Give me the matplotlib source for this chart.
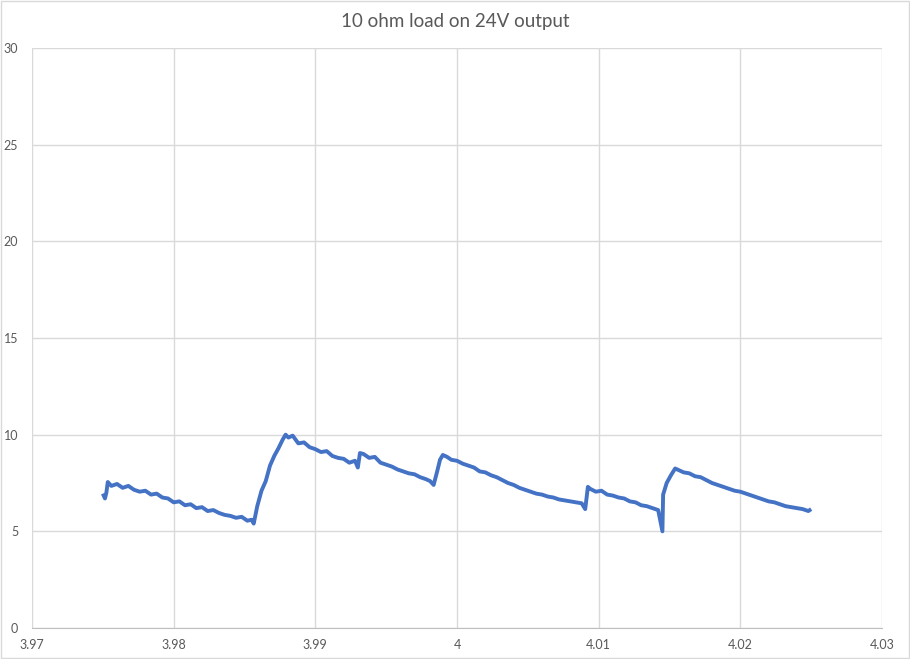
import matplotlib
matplotlib.use("Agg")
from matplotlib import pyplot as plt
from matplotlib.patches import Rectangle

# time (s) and voltage (V)
time = [
    3.97500, 3.97515, 3.97525, 3.97535, 3.97560, 3.97600, 3.97640, 3.97680,
    3.97720, 3.97760, 3.97800, 3.97840, 3.97880, 3.97920, 3.97960, 3.98000,
    3.98040, 3.98080, 3.98120, 3.98160, 3.98200, 3.98240, 3.98280, 3.98320,
    3.98360, 3.98400, 3.98440, 3.98480, 3.98520, 3.98550, 3.98565,
    3.98590, 3.98620, 3.98650, 3.98680, 3.98710, 3.98740, 3.98770, 3.98790,
    3.98810, 3.98840,
    3.98880, 3.98920, 3.98960, 3.99000, 3.99040, 3.99080, 3.99120, 3.99160,
    3.99200, 3.99240, 3.99280, 3.99300,
    3.99315, 3.99340, 3.99380, 3.99420, 3.99460, 3.99500, 3.99540, 3.99580,
    3.99620, 3.99660, 3.99700, 3.99740, 3.99780, 3.99810, 3.99835,
    3.99860, 3.99880, 3.99900, 3.99930, 3.99960, 4.00000, 4.00040, 4.00080,
    4.00120, 4.00160, 4.00200, 4.00240, 4.00280, 4.00320, 4.00360, 4.00400,
    4.00440, 4.00480, 4.00520, 4.00560, 4.00600, 4.00640, 4.00680, 4.00720,
    4.00760, 4.00800, 4.00840, 4.00880, 4.00905,
    4.00924, 4.00940, 4.00980, 4.01020, 4.01060, 4.01100, 4.01140, 4.01180,
    4.01220, 4.01260, 4.01300, 4.01340, 4.01380, 4.01420, 4.01450,
    4.01455, 4.01480, 4.01510, 4.01540, 4.01570, 4.01600, 4.01640, 4.01680,
    4.01720, 4.01760, 4.01800, 4.01840, 4.01880, 4.01920, 4.01960, 4.02000,
    4.02040, 4.02080, 4.02120, 4.02160, 4.02200, 4.02240, 4.02280, 4.02320,
    4.02360, 4.02400, 4.02440, 4.02480, 4.02500,
]
voltage = [
    6.95, 6.70, 7.00, 7.55, 7.35, 7.45, 7.25, 7.35,
    7.15, 7.05, 7.10, 6.90, 6.95, 6.75, 6.70, 6.50,
    6.55, 6.35, 6.40, 6.20, 6.25, 6.05, 6.10, 5.95,
    5.85, 5.80, 5.70, 5.75, 5.55, 5.60, 5.40,
    6.30, 7.10, 7.60, 8.40, 8.90, 9.30, 9.75, 10.00,
    9.85, 9.95,
    9.55, 9.60, 9.35, 9.25, 9.10, 9.15, 8.90, 8.80,
    8.75, 8.55, 8.65, 8.30,
    9.05, 9.00, 8.80, 8.85, 8.55, 8.45, 8.35, 8.20,
    8.10, 8.00, 7.95, 7.80, 7.70, 7.60, 7.40,
    8.10, 8.70, 8.95, 8.85, 8.70, 8.65, 8.50, 8.40,
    8.30, 8.10, 8.05, 7.90, 7.80, 7.65, 7.50, 7.40,
    7.25, 7.15, 7.05, 6.95, 6.90, 6.80, 6.75, 6.65,
    6.60, 6.55, 6.50, 6.45, 6.15,
    7.30, 7.20, 7.05, 7.10, 6.90, 6.85, 6.75, 6.70,
    6.55, 6.50, 6.35, 6.30, 6.20, 6.10, 5.00,
    6.90, 7.50, 7.90, 8.25, 8.15, 8.05, 8.00, 7.85,
    7.80, 7.65, 7.50, 7.40, 7.30, 7.20, 7.10, 7.05,
    6.95, 6.85, 6.75, 6.65, 6.55, 6.50, 6.40, 6.30,
    6.25, 6.20, 6.15, 6.05, 6.15,
]

x_ticks = [3.97, 3.98, 3.99, 4.00, 4.01, 4.02, 4.03]
x_labels = ["3.97", "3.98", "3.99", "4", "4.01", "4.02", "4.03"]
y_ticks = [0, 5, 10, 15, 20, 25, 30]

plt.rcParams['font.family'] = ['Lato', 'DejaVu Sans']
txt = '#595959'
grid = '#d9d9d9'

fig = plt.figure(figsize=(9.1, 6.59), dpi=100)
fig.patches.append(Rectangle((0.001, 0.001), 0.998, 0.997, transform=fig.transFigure,
                             fill=False, edgecolor=grid, linewidth=1))
ax = fig.add_axes([32 / 910, 31 / 659, 850 / 910, 580 / 659])

ax.plot(time, voltage, color='#4472C4', linewidth=2.8, solid_joinstyle='round',
        solid_capstyle='butt')

ax.set_xlim(3.97, 4.03)
ax.set_ylim(0, 30)
ax.set_xticks(x_ticks)
ax.set_xticklabels(x_labels)
ax.set_yticks(y_ticks)
ax.grid(True, color=grid, linewidth=1)
ax.set_axisbelow(True)
for s in ['top', 'right', 'left']:
    ax.spines[s].set_visible(False)
ax.spines['bottom'].set_color('#bfbfbf')
ax.tick_params(length=0, colors=txt, labelsize=9)
ax.tick_params(axis='x', pad=8)
ax.tick_params(axis='y', pad=10)

fig.text(0.5, 1 - 22 / 659, "10 ohm load on 24V output", ha='center', va='center',
         fontsize=13.5, color=txt)

fig.savefig("out.png", dpi=100)
